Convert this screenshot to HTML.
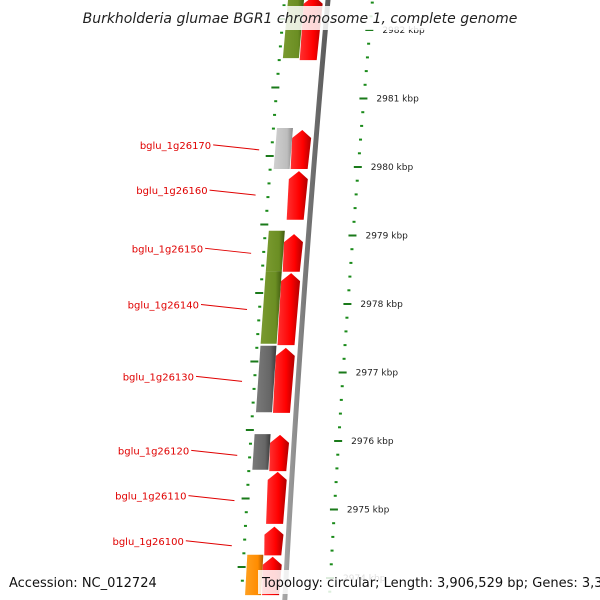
<!DOCTYPE html>
<html><head><meta charset="utf-8"><style>
html,body{margin:0;padding:0;background:#fff;}
svg{display:block;font-family:"DejaVu Sans","Liberation Sans",sans-serif;}
</style></head><body>
<svg id="map" width="600" height="600" viewBox="0 0 600 600" xmlns="http://www.w3.org/2000/svg">
<defs>
<linearGradient id="gRed" x1="0" x2="1" y1="0" y2="0"><stop offset="0" stop-color="#ff3030"/><stop offset="0.6" stop-color="#ff0000"/><stop offset="1" stop-color="#b00000"/></linearGradient>
<linearGradient id="gOlive" x1="0" x2="1"><stop offset="0" stop-color="#7a9a30"/><stop offset="0.7" stop-color="#6b8e23"/><stop offset="1" stop-color="#3f5a10"/></linearGradient>
<linearGradient id="gLight" x1="0" x2="1"><stop offset="0" stop-color="#d0d0d0"/><stop offset="0.7" stop-color="#bdbdbd"/><stop offset="1" stop-color="#8a8a8a"/></linearGradient>
<linearGradient id="gDark" x1="0" x2="1"><stop offset="0" stop-color="#7a7a7a"/><stop offset="0.7" stop-color="#666"/><stop offset="1" stop-color="#3a3a3a"/></linearGradient>
<linearGradient id="gOrange" x1="0" x2="1"><stop offset="0" stop-color="#ffa020"/><stop offset="0.7" stop-color="#ff8c00"/><stop offset="1" stop-color="#b05a00"/></linearGradient>
<linearGradient id="gBack" x1="0" x2="1"><stop offset="0" stop-color="#aaa"/><stop offset="0.5" stop-color="#777"/><stop offset="1" stop-color="#555"/></linearGradient>
</defs>
<g id="layer"></g>
</svg>
<script>
// data
const tickKbp = [2982, 2981, 2980, 2979, 2978, 2977, 2976, 2975, 2974];
const fwdStart = [2981.56, 2979.97, 2979.23, 2978.47, 2977.40, 2976.41, 2975.56, 2974.79, 2973.75];
const fwdEnd   = [2982.50, 2980.54, 2979.94, 2979.02, 2978.45, 2977.36, 2976.09, 2975.55, 2974.31];
const revStart = [2981.59, 2979.97, 2978.48, 2977.42, 2976.42, 2975.58, 2973.75];
const revEnd   = [2982.50, 2980.57, 2979.07, 2978.48, 2977.39, 2976.10, 2974.34];
const revColor = ["gOlive", "gLight", "gOlive", "gOlive", "gDark", "gDark", "gOrange"];
const extraFwdStart = [2974.33];
const extraFwdEnd = [2974.75];
const labelNames = ["bglu_1g26170","bglu_1g26160","bglu_1g26150","bglu_1g26140","bglu_1g26130","bglu_1g26120","bglu_1g26110","bglu_1g26100"];
const labelKbp = [2980.25, 2979.59, 2978.74, 2977.92, 2976.87, 2975.79, 2975.13, 2974.47];

const NS="http://www.w3.org/2000/svg";
const layer=document.getElementById('layer');
const Y=k=>30+(2982-k)*68.5;
const bx=y=>328-0.09*y+0.00003*y*y;
function mk(tag,attrs,parent){const e=document.createElementNS(NS,tag);for(const k in attrs)e.setAttribute(k,attrs[k]);(parent||layer).appendChild(e);return e;}

// backbone
const bpts=[];for(let y=-5;y<=605;y+=10)bpts.push([bx(y),y]);
const bl=bpts.map(p=>(p[0]-2.5)+','+p[1]), br=bpts.slice().reverse().map(p=>(p[0]+2.5)+','+p[1]);
const back=mk('polygon',{points:bl.concat(br).join(' '),fill:'url(#gBack)'});



// ticks: minor dots every 0.2kbp
for(let k=2983;k>=2973;k-=0.2){
  const y=Y(k);if(y<-5||y>605)continue;
  const d=mk('rect',{x:bx(y)+43,y:y-1,width:3,height:2,fill:'#1a8a1a'});
  
  
  const yl=y-11;
  const d2=mk('rect',{x:bx(yl)-45,y:yl-1,width:3,height:2,fill:'#1a8a1a'});
  
  
}
tickKbp.forEach(k=>{
  const y=Y(k);
  const t=mk('rect',{x:bx(y)+40,y:y-1,width:8,height:2,fill:'#1a7a1a'});
  
  
  const yl=y-11;
  const t2=mk('rect',{x:bx(yl)-49,y:yl-1,width:8,height:2,fill:'#1a7a1a'});
  
  
  const tx=mk('text',{x:bx(y)+57,y:y+3,'font-size':9,fill:'#222'});
  tx.textContent=k+' kbp';
  
  
});

function fwdGene(s,e,fill,name){
  const y1=Y(e),y2=Y(s),h=Math.min(8,(y2-y1)/2);
  const L=y=>bx(y)-23,R=y=>bx(y)-6;
  const ya=y1+h;
  const pts=[[L(ya)-1,ya],[(L(y1)+R(y1))/2,y1],[R(ya)+1,ya],[R(y2),y2],[L(y2),y2]];
  const p=mk('polygon',{points:pts.map(q=>q.join(',')).join(' '),fill:fill});
  
  
}
function revGene(s,e,fill,name){
  const y1=Y(e),y2=Y(s);
  const L=y=>bx(y)-40,R=y=>bx(y)-24;
  const pts=[[L(y1),y1],[R(y1),y1],[R(y2),y2],[L(y2),y2]];
  const p=mk('polygon',{points:pts.map(q=>q.join(',')).join(' '),fill:'url(#'+fill+')'});
  
  
}
fwdStart.forEach((s,i)=>fwdGene(s,fwdEnd[i],'url(#gRed)','forward-gene'));
extraFwdStart.forEach((s,i)=>fwdGene(s,extraFwdEnd[i],'url(#gRed)','forward-gene'));
revStart.forEach((s,i)=>revGene(s,revEnd[i],revColor[i],'reverse-gene'));

labelNames.forEach((n,i)=>{
  const y=Y(labelKbp[i]);const xe=bx(y)-56;
  const l=mk('line',{x1:xe-46,y1:y-5,x2:xe,y2:y,stroke:'#e00000','stroke-width':1});
  
  
  const t=mk('text',{x:xe-48,y:y-1,'font-size':10,fill:'#e00000','text-anchor':'end'});
  t.textContent=n;
  
  
});

// overlays
const r1=mk('rect',{x:86,y:6,width:428,height:24,fill:'#fff','fill-opacity':0.85});


const tt=mk('text',{x:300,y:23,'font-size':14,'font-style':'italic','text-anchor':'middle',fill:'#222'});
tt.textContent='Burkholderia glumae BGR1 chromosome 1, complete genome';


const r2=mk('rect',{x:258,y:570,width:338,height:24,fill:'#fff','fill-opacity':0.85});


const a=mk('text',{x:9,y:587,'font-size':13,fill:'#111'});
a.textContent='Accession: NC_012724';


const tp=mk('text',{x:262,y:587,'font-size':13,fill:'#111'});
tp.textContent='Topology: circular; Length: 3,906,529 bp; Genes: 3,352';


</script>
</body></html>
